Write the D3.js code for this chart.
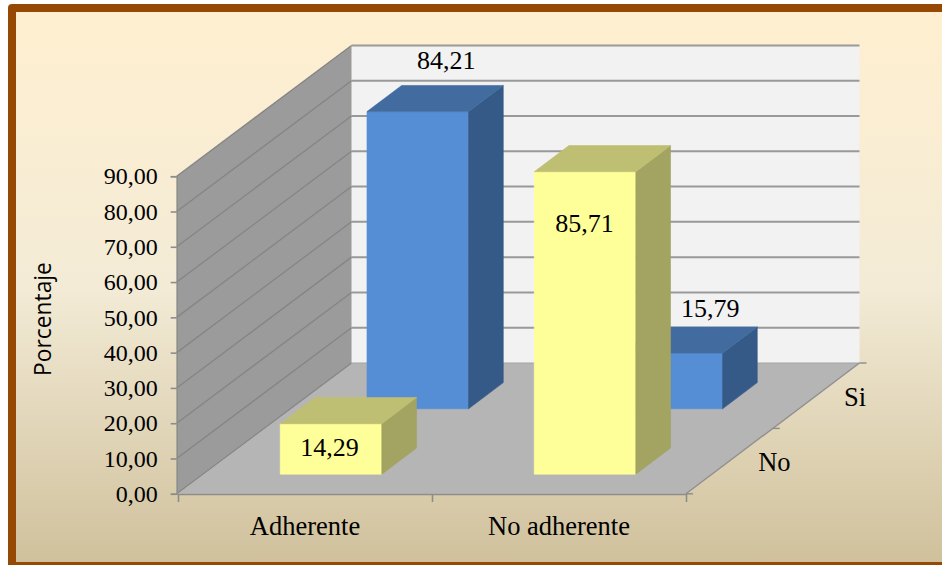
<!DOCTYPE html>
<html>
<head>
<meta charset="utf-8">
<script src="https://cdn.jsdelivr.net/npm/d3@7"></script>
<style>
    html, body { margin: 0; padding: 0; background: #fff; }
    svg { display: block; }
    text { font-family: "Liberation Serif", serif; fill: #000; }
</style>
</head>
<body>
<svg id="chart"></svg>
<script>
    const categories = ["Adherente", "No adherente"];
    const seriesNames = ["No", "Si"];
    const noValues = [14.29, 85.71];
    const siValues = [84.21, 15.79];
    const valueTicks = [0, 10, 20, 30, 40, 50, 60, 70, 80, 90];

    const width = 942;
    const height = 565;

    const svg = d3.select("#chart")
        .attr("width", width)
        .attr("height", height)
        .attr("viewBox", [0, 0, width, height]);

    const comma = d3.formatLocale({decimal: ",", thousands: ".", grouping: [3], currency: ["", ""]}).format(".2f");

    // floor is a parallelogram, front edge 178..686 at y=494, pushed back by depthX/depthY
    const x = d3.scaleBand().domain(categories).range([178, 686]).paddingInner(0.6).paddingOuter(0.3);
    const xEdge = d3.scaleLinear().domain([0, 2]).range([178, 686]);
    const depth = d3.scaleBand().domain(seriesNames).range([0, 1]).paddingInner(0.6).paddingOuter(0.3);
    const depthEdge = d3.scaleLinear().domain([0, 2]).range([0, 1]);
    const depthX = d3.scaleLinear().domain([0, 1]).range([0, 173.5]);
    const depthY = d3.scaleLinear().domain([0, 1]).range([0, -130.8]);
    const y = d3.scaleLinear().domain([0, 90]).range([493.8, 176.2]);

    // screen position of a point given floor x, depth fraction and value
    function project(px, t, v) {
        return [px + depthX(t), y(v) + depthY(t)];
    }

    function face(points) {
        return d3.line()(points);
    }

    const defs = svg.append("defs");
    const bg = defs.append("linearGradient").attr("id", "bg")
        .attr("x1", 0).attr("y1", 0).attr("x2", 0).attr("y2", 1);
    bg.append("stop").attr("offset", "0%").attr("stop-color", "#ffefd0");
    bg.append("stop").attr("offset", "50%").attr("stop-color", "#f3ebd6");
    bg.append("stop").attr("offset", "100%").attr("stop-color", "#d0c19c");

    // frame
    svg.append("path")
        .attr("d", "M942,4H12Q8,4 8,8V565H942Z")
        .attr("fill", "#964805");
    svg.append("rect")
        .attr("x", 16).attr("y", 12)
        .attr("width", width - 16).attr("height", 550)
        .attr("fill", "url(#bg)");

    const x0 = 178, x1 = 686;
    const vMax = 90;

    // back wall
    svg.append("path")
        .attr("d", face([project(x0, 1, 0), project(x0, 1, vMax), project(x1, 1, vMax), project(x1, 1, 0)]) + "Z")
        .attr("fill", "#f2f2f2");

    // side wall
    svg.append("path")
        .attr("d", face([project(x0 - 1.3, 0, 0), project(x0 - 1.3, 0, vMax), project(x0, 1, vMax), project(x0, 1, 0)]) + "Z")
        .attr("fill", "#9b9b9b");

    // floor
    svg.append("path")
        .attr("d", face([project(x0, 0, 0), project(x1, 0, 0), project(x1, 1, 0), project(x0, 1, 0)]) + "Z")
        .attr("fill", "#b5b5b5");

    // gridlines
    svg.append("g").selectAll("line")
        .data(valueTicks.filter(d => d > 0))
        .join("line")
        .attr("x1", project(x0, 1, 0)[0])
        .attr("x2", project(x1, 1, 0)[0])
        .attr("y1", d => project(x0, 1, d)[1])
        .attr("y2", d => project(x0, 1, d)[1])
        .attr("stroke", "#999")
        .attr("stroke-width", 2);

    svg.append("g").selectAll("line")
        .data(valueTicks)
        .join("line")
        .attr("x1", x0 - 1.3)
        .attr("x2", project(x0, 1, 0)[0])
        .attr("y1", d => y(d))
        .attr("y2", d => project(x0, 1, d)[1])
        .attr("stroke", "#858585")
        .attr("stroke-width", 1.3);

    // floor edges
    svg.append("line")
        .attr("x1", project(x0, 1, 0)[0]).attr("y1", project(x0, 1, 0)[1])
        .attr("x2", project(x1, 1, 0)[0]).attr("y2", project(x1, 1, 0)[1])
        .attr("stroke", "#a3a3a3").attr("stroke-width", 1.2);
    svg.append("line")
        .attr("x1", project(x1, 0, 0)[0]).attr("y1", project(x1, 0, 0)[1])
        .attr("x2", project(x1, 1, 0)[0]).attr("y2", project(x1, 1, 0)[1])
        .attr("stroke", "#8f8f8f").attr("stroke-width", 1.4);

    // bars, back row first so the front row overlaps it
    const palette = {
        No: {front: "#ffff99", top: "#bfbf73", side: "#a3a362"},
        Si: {front: "#558ed5", top: "#426ca0", side: "#365a87"}
    };
    const rows = [
        {name: "Si", values: siValues},
        {name: "No", values: noValues}
    ];

    // where each data label sits relative to the centre of its bar top
    const labelShift = {
        "Si|Adherente": [11, -38],
        "Si|No adherente": [21, -31],
        "No|Adherente": [-19, 37],
        "No|No adherente": [-18, 65]
    };

    const bars = rows.flatMap(r => r.values.map((v, i) => ({series: r.name, category: categories[i], value: v})));

    const bar = svg.append("g").selectAll("g")
        .data(bars)
        .join("g");

    bar.each(function (d) {
        const g = d3.select(this);
        const l = x(d.category), r = l + x.bandwidth();
        const t0 = depth(d.series), t1 = t0 + depth.bandwidth();
        const c = palette[d.series];
        const parts = [
            [c.front, [project(l, t0, 0), project(r, t0, 0), project(r, t0, d.value), project(l, t0, d.value)]],
            [c.side, [project(r, t0, 0), project(r, t1, 0), project(r, t1, d.value), project(r, t0, d.value)]],
            [c.top, [project(l, t0, d.value), project(r, t0, d.value), project(r, t1, d.value), project(l, t1, d.value)]]
        ];
        g.selectAll("path")
            .data(parts)
            .join("path")
            .attr("d", p => face(p[1]) + "Z")
            .attr("fill", p => p[0])
            .attr("stroke", p => p[0])
            .attr("stroke-width", 0.6);
    });

    // value labels go on top of every bar
    svg.append("g").selectAll("text")
        .data(bars)
        .join("text")
        .attr("text-anchor", "middle")
        .attr("dominant-baseline", "central")
        .attr("font-size", 26)
        .attr("x", d => {
            const c = project(x(d.category) + x.bandwidth() / 2, depth(d.series) + depth.bandwidth() / 2, d.value);
            return c[0] + labelShift[d.series + "|" + d.category][0];
        })
        .attr("y", d => {
            const c = project(x(d.category) + x.bandwidth() / 2, depth(d.series) + depth.bandwidth() / 2, d.value);
            return c[1] + labelShift[d.series + "|" + d.category][1];
        })
        .text(d => comma(d.value));

    // value axis
    const yAxis = svg.append("g")
        .attr("transform", `translate(${x0 - 1.3},0)`)
        .call(d3.axisLeft(y).tickValues(valueTicks).tickFormat(comma).tickSize(6).tickPadding(13));
    yAxis.selectAll("text").attr("font-size", 24).style("font-family", '"Liberation Serif", serif');
    yAxis.selectAll("line").attr("stroke", "#8c8c8c").attr("stroke-width", 1.6);
    yAxis.select(".domain").attr("stroke", "#8c8c8c").attr("stroke-width", 1.4);

    // category axis: labels from the band scale, ticks on the band boundaries
    const xAxis = svg.append("g")
        .attr("transform", "translate(0,494)")
        .call(d3.axisBottom(x).tickSize(0).tickPadding(22));
    xAxis.selectAll("text").attr("font-size", 26.5).style("font-family", '"Liberation Serif", serif');
    xAxis.select(".domain").remove();

    const xTicks = svg.append("g")
        .attr("transform", "translate(0,494)")
        .call(d3.axisBottom(xEdge).tickValues([0, 1, 2]).tickFormat("").tickSize(8).tickSizeOuter(0));
    xTicks.selectAll("line").attr("stroke", "#8c8c8c").attr("stroke-width", 1.6);
    xTicks.select(".domain").attr("stroke", "#8c8c8c").attr("stroke-width", 1.6);

    // depth axis ticks and series names
    svg.append("g").selectAll("line")
        .data(d3.range(0, 3))
        .join("line")
        .attr("x1", d => project(x1, depthEdge(d), 0)[0])
        .attr("x2", d => project(x1, depthEdge(d), 0)[0] + 7)
        .attr("y1", d => project(x1, depthEdge(d), 0)[1])
        .attr("y2", d => project(x1, depthEdge(d), 0)[1])
        .attr("stroke", "#8c8c8c")
        .attr("stroke-width", 1.4);

    svg.append("g").selectAll("text")
        .data(seriesNames)
        .join("text")
        .attr("text-anchor", "middle")
        .attr("dominant-baseline", "central")
        .attr("font-size", 26.5)
        .attr("x", d => project(x1, depth(d) + depth.bandwidth() / 2, 0)[0] + (d === "No" ? 45 : 39))
        .attr("y", d => project(x1, depth(d) + depth.bandwidth() / 2, 0)[1] + 1)
        .text(d => d);

    // axis title
    svg.append("text")
        .attr("transform", "translate(42,319) rotate(-90)")
        .attr("text-anchor", "middle")
        .attr("dominant-baseline", "central")
        .attr("font-size", 22.8)
        .style("font-family", '"Open Sans", sans-serif')
        .text("Porcentaje");
</script>
</body>
</html>
